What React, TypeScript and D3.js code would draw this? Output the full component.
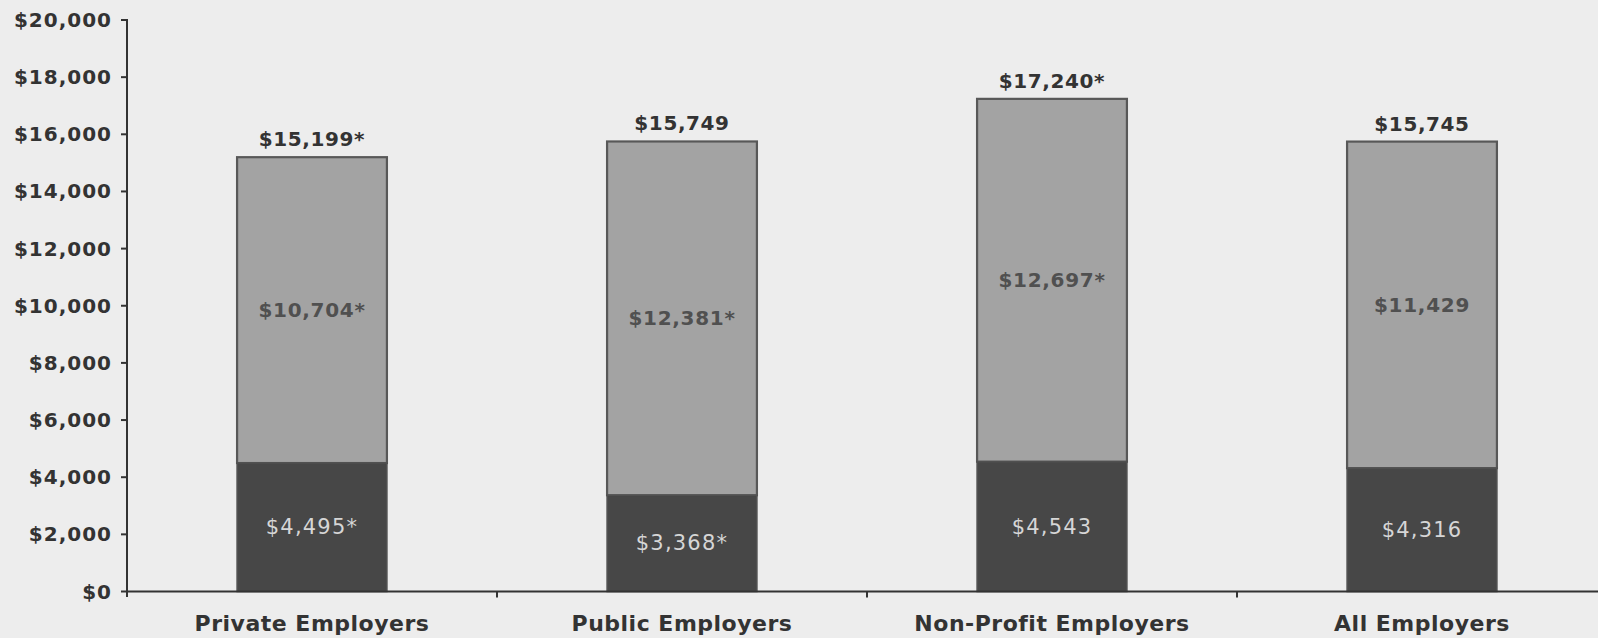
import React from "react";
import * as d3 from "d3";

const categories = ["Private Employers", "Public Employers", "Non-Profit Employers", "All Employers"];
const workerValues = [4495, 3368, 4543, 4316];
const employerValues = [10704, 12381, 12697, 11429];
const totalValues = [15199, 15749, 17240, 15745];
const workerStar = [true, true, false, false];
const employerStar = [true, true, true, false];
const totalStar = [true, false, true, false];
const yTicks = [0, 2000, 4000, 6000, 8000, 10000, 12000, 14000, 16000, 18000, 20000];

const W = 1598;
const H = 638;
const FONT = "'DejaVu Sans', Verdana, sans-serif";

export default function App() {
  const x0 = 127;
  const band = 370;
  const x = d3.scaleBand<string>().domain(categories).range([x0, x0 + band * categories.length]).padding(0);
  const y = d3.scaleLinear().domain([0, 20000]).range([591.5, 20]);
  const barW = x.bandwidth() * 0.405;
  const fmt = d3.format("$,");

  return (
    <svg width={W} height={H} style={{ position: "fixed", left: 0, top: 0, background: "#ededed" }}>
      <rect x={0} y={0} width={W} height={H} fill="#ededed" />
      {categories.map((c, i) => {
        const bx = (x(c) as number) + (x.bandwidth() - barW) / 2;
        const cx = (x(c) as number) + x.bandwidth() / 2;
        const yW = y(workerValues[i]);
        const yT = y(workerValues[i] + employerValues[i]);
        return (
          <g key={c}>
            <rect x={bx} y={yT} width={barW} height={yW - yT} fill="#a3a3a3" stroke="#585858" strokeWidth={2.2} />
            <rect x={bx} y={yW} width={barW} height={y(0) - yW} fill="#474747" stroke="#505050" strokeWidth={1.5} />
            <text x={cx} y={(yT + yW) / 2 + 7} textAnchor="middle" fontFamily={FONT} fontWeight="bold" fontSize={20} letterSpacing={0.7} fill="#505050">
              {fmt(employerValues[i]) + (employerStar[i] ? "*" : "")}
            </text>
            <text x={cx} y={(yW + y(0)) / 2 + 7} textAnchor="middle" fontFamily={FONT} fontSize={21} letterSpacing={1.2} fill="#d6d6d6">
              {fmt(workerValues[i]) + (workerStar[i] ? "*" : "")}
            </text>
            <text x={cx} y={y(totalValues[i]) - 11} textAnchor="middle" fontFamily={FONT} fontWeight="bold" fontSize={20} letterSpacing={0.6} fill="#333">
              {fmt(totalValues[i]) + (totalStar[i] ? "*" : "")}
            </text>
            <text x={cx} y={631} textAnchor="middle" fontFamily={FONT} fontWeight="bold" fontSize={22} letterSpacing={0.5} fill="#333">
              {c}
            </text>
          </g>
        );
      })}
      {/* y axis */}
      <line x1={x0} x2={x0} y1={y(20000) - 1} y2={597} stroke="#333" strokeWidth={2} />
      {yTicks.map((t) => (
        <g key={t}>
          <line x1={x0 - 6} x2={x0} y1={y(t)} y2={y(t)} stroke="#333" strokeWidth={2} />
          <text x={x0 - 15} y={y(t) + 7} textAnchor="end" fontFamily={FONT} fontWeight="bold" fontSize={20} letterSpacing={1} fill="#333">
            {fmt(t)}
          </text>
        </g>
      ))}
      {/* x axis */}
      <line x1={x0} x2={W} y1={y(0)} y2={y(0)} stroke="#333" strokeWidth={2} />
      {categories.map((c, i) =>
        i > 0 ? (
          <line key={c} x1={x(c) as number} x2={x(c) as number} y1={y(0)} y2={y(0) + 6} stroke="#333" strokeWidth={2} />
        ) : null
      )}
    </svg>
  );
}
